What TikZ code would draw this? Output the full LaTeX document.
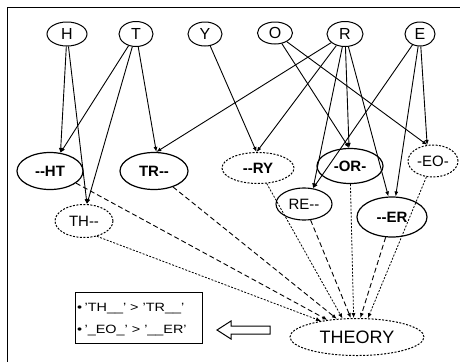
\documentclass[tikz,border=0pt]{standalone}
\usepackage{fontspec}
\usepackage{graphicx}
\setmainfont{Liberation Sans}
\usetikzlibrary{arrows.meta,shapes.geometric}

\begin{document}
\begin{tikzpicture}[x=1pt,y=-1pt,
  letter/.style={ellipse,draw,line width=1pt,inner sep=0pt,font=\fontsize{16}{16}\selectfont},
  part/.style={ellipse,draw,line width=1.2pt,inner sep=0pt,font=\bfseries\fontsize{15}{15}\selectfont},
  partthin/.style={ellipse,draw,line width=1.1pt,inner sep=0pt,font=\fontsize{15}{15}\selectfont},
  guess/.style={ellipse,draw,line width=1pt,dash pattern=on 2pt off 1.5pt,inner sep=0pt,font=\fontsize{15}{15}\selectfont},
  tip/.style={-{Latex[length=5pt,width=4pt]}},
  link/.style={line width=0.9pt,tip},
  vote/.style={line width=0.9pt,dash pattern=on 5pt off 3pt,tip},
  weakvote/.style={line width=0.8pt,dash pattern=on 2pt off 1.5pt,tip},
]
\useasboundingbox (0,0) rectangle (460,362);
% frame
\draw[line width=1pt] (460,7) -- (7,7) -- (7,362);

% single letters
\node[letter,minimum width=40pt,minimum height=24pt] (H) at (67,34) {H};
\node[letter,minimum width=34pt,minimum height=25pt] (T) at (136,34) {T};
\node[letter,minimum width=34pt,minimum height=24pt] (Y) at (205,34) {Y};
\node[letter,minimum width=35pt,minimum height=22pt] (O) at (275,33) {O};
\node[letter,minimum width=36pt,minimum height=25pt] (R) at (345,34) {R};
\node[letter,minimum width=30pt,minimum height=24pt] (E) at (420,34) {E};

% letter pairs
\node[part,minimum width=66pt,minimum height=37pt] (HT) at (50,171) {-{}-HT};
\node[part,minimum width=68pt,minimum height=37pt] (TR) at (154,171) {TR-{}-};
\node[guess,font=\bfseries\fontsize{15}{15}\selectfont,minimum width=72pt,minimum height=31pt] (RY) at (258,168) {-{}-RY};
\node[part,minimum width=66pt,minimum height=35pt] (OR) at (350,166) {-OR-};
\node[guess,minimum width=50pt,minimum height=32pt] (EO) at (433,161) {-EO-};
\node[partthin,minimum width=56pt,minimum height=32pt] (RE) at (304,204) {RE-{}-};
\node[part,minimum width=70pt,minimum height=40pt] (ER) at (392,217) {-{}-ER};
\node[guess,minimum width=58pt,minimum height=33pt] (TH) at (84,221) {TH-{}-};

% whole word
\node[guess,font=\fontsize{18}{18}\selectfont,minimum width=134pt,minimum height=37pt] (W) at (357,337) {THEORY};

% letters to pairs
\draw[link] (H) -- (HT.60);
\draw[link] (T) -- (HT.60);
\draw[link] (H) -- (TH.80);
\draw[link] (T) -- (TH.80);
\draw[link] (T) -- (TR.83);
\draw[link] (R) -- (TR.83);
\draw[link] (Y) -- (RY.95);
\draw[link] (R) -- (RY.95);
\draw[link] (O) -- (OR.93);
\draw[link] (R) -- (OR.93);
\draw[link] (O) -- (EO.110);
\draw[link] (E) -- (EO.110);
\draw[link] (R) -- (RE.60);
\draw[link] (E) -- (RE.60);
\draw[link] (R) -- (ER.100);
\draw[link] (E) -- (ER.80);

% pairs to word
\draw[vote] (HT.-25) -- (W.150);
\draw[weakvote] (TH.-50) -- (W.156);
\draw[vote] (TR.-40) -- (W.138);
\draw[weakvote] (RY) -- (W.128);
\draw[vote] (RE) -- (W.108);
\draw[weakvote] (OR) -- (W.100);
\draw[vote] (ER) -- (W.80);
\draw[weakvote] (EO) -- (W.60);

% hollow arrow
\draw[line width=1pt] (270,326) -- (231,326) -- (231,321) -- (217,330)
  -- (231,339) -- (231,334) -- (270,334) -- cycle;

% rules box
\node[draw,line width=1pt,minimum width=127pt,minimum height=51pt,inner sep=0pt] (legend) at (138.5,317.5) {};
\node[anchor=west,inner sep=0pt,align=left,font=\fontsize{12}{22}\selectfont] (rules) at (77,320)
  {\scalebox{1.2}[1]{\textbullet\,'TH\_\_' > 'TR\_\_'}\\\scalebox{1.2}[1]{\textbullet\,'\_EO\_' > '\_\_ER'}};
\end{tikzpicture}
\end{document}
